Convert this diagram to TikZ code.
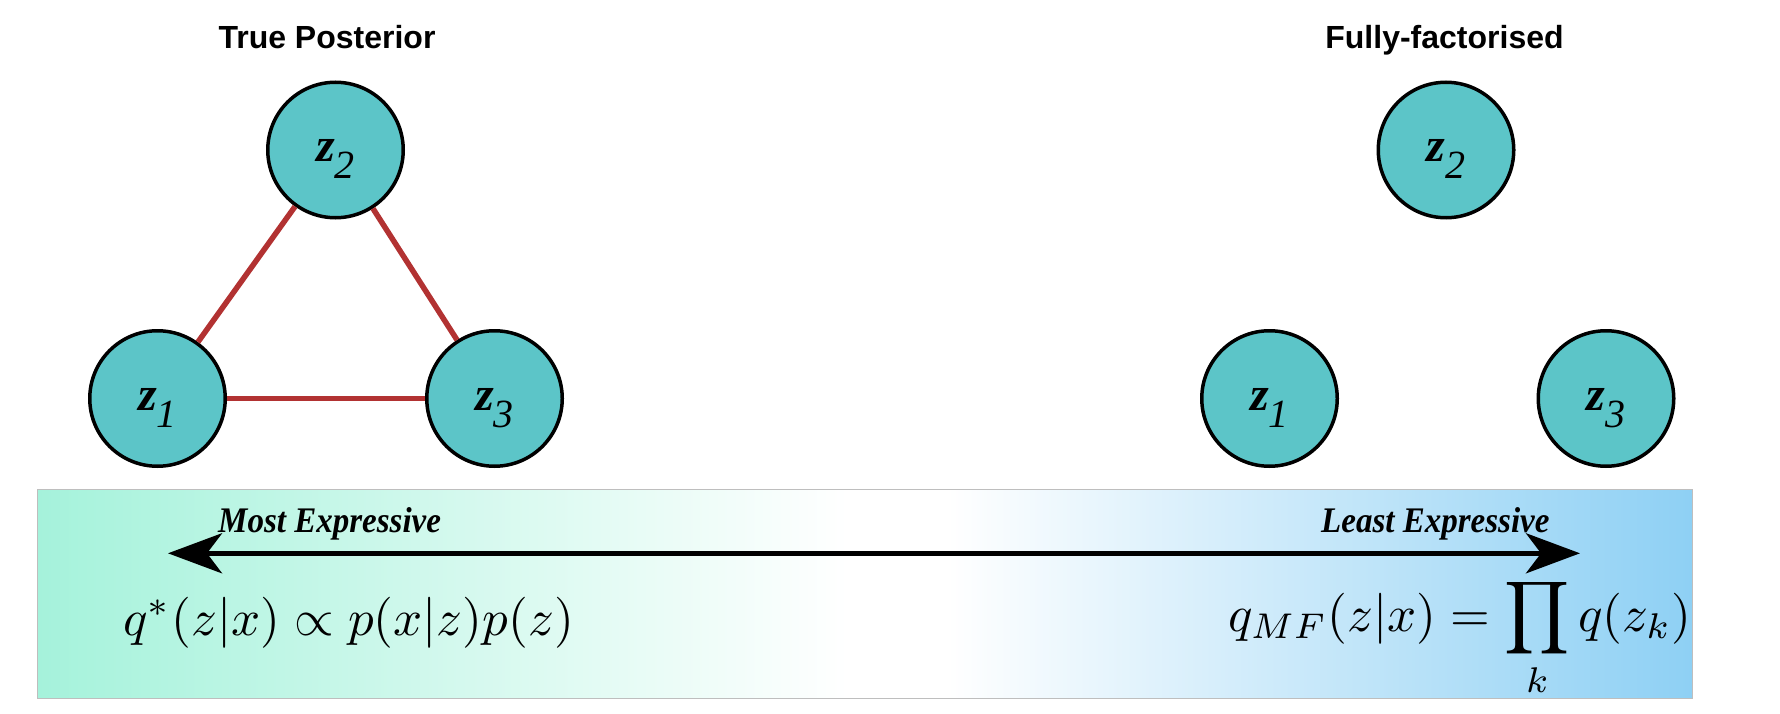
\documentclass[tikz,border=0pt]{standalone}
\usepackage{fontspec}
\newfontfamily\sansbold{Liberation Sans}
\newfontfamily\timesf{Liberation Serif}
\usetikzlibrary{arrows.meta}
\definecolor{nodefill}{RGB}{92,197,200}
\definecolor{edgered}{RGB}{178,50,50}
\definecolor{mint}{RGB}{165,242,219}
\definecolor{skyb}{RGB}{142,208,244}
\definecolor{barline}{RGB}{190,190,190}
\pgfdeclarehorizontalshading{barshade}{100bp}{color(0bp)=(mint); color(25bp)=(mint); color(49.5bp)=(white); color(52.5bp)=(white); color(75bp)=(skyb); color(100bp)=(skyb)}
\newcommand\zlab[1]{{\timesf\fontsize{48}{50}\selectfont\bfseries\itshape z}\raisebox{-17pt}{\timesf\fontsize{40}{44}\selectfont\itshape #1}}
\newcommand\expl[1]{\scalebox{0.917}[1]{#1}}
\tikzset{
  zc/.style={circle, draw=black, line width=3.5pt, fill=nodefill, minimum size=135.5pt, inner sep=0pt, text height=40pt, text depth=17pt},
  link/.style={draw=edgered, line width=5.5pt},
  title/.style={font=\sansbold\bfseries\fontsize{32}{36}\selectfont, anchor=base},
  explabel/.style={font=\timesf\bfseries\itshape\fontsize{36}{40}\selectfont, anchor=base west, inner sep=0pt},
  formula/.style={anchor=base west, inner sep=0pt}
}
\begin{document}
\begin{tikzpicture}[x=1pt,y=-1pt]
\useasboundingbox (0,0) rectangle (1780,714);
% bar
\node[rectangle, minimum width=1655pt, minimum height=209pt, inner sep=0pt, shading=barshade, draw=barline, line width=1pt] (bar) at (864.5,593.5) {};
% titles
\node[title] (t1) at (327,49) {True Posterior};
\node[title] (t2) at (1444.5,49) {Fully-factorised};
% left graph
\node[zc] (a1) at (157.5,398.5) {\zlab{1}};
\node[zc] (a2) at (335.5,150) {\zlab{2}};
\node[zc] (a3) at (494.5,398.5) {\zlab{3}};
\draw[link] (a1) -- (a2);
\draw[link] (a2) -- (a3);
\draw[link] (a1) -- (a3);
% right graph
\node[zc] (b1) at (1269.5,398.5) {\zlab{1}};
\node[zc] (b2) at (1446,150) {\zlab{2}};
\node[zc] (b3) at (1606,398.5) {\zlab{3}};
% arrow
\coordinate (al) at (168,553.3);
\coordinate (ar) at (1580,553.3);
\draw[line width=5pt, {Stealth[length=54pt,width=40pt,inset=15pt]}-{Stealth[length=54pt,width=40pt,inset=15pt]}] (al) -- (ar);
\node[explabel] (m) at (218,532) {\expl{Most Expressive}};
\node[explabel] (l) at (1321,532) {\expl{Least Expressive}};
% formulas
\node[formula] (f1) at (123,635.5) {\scalebox{5.1}{$q^*(z|x) \propto p(x|z)p(z)$}};
\node[formula] (f2) at (1228,631) {\scalebox{5.1}{$\displaystyle q_{MF}(z|x) = \prod_k q(z_k)$}};
\end{tikzpicture}
\end{document}
